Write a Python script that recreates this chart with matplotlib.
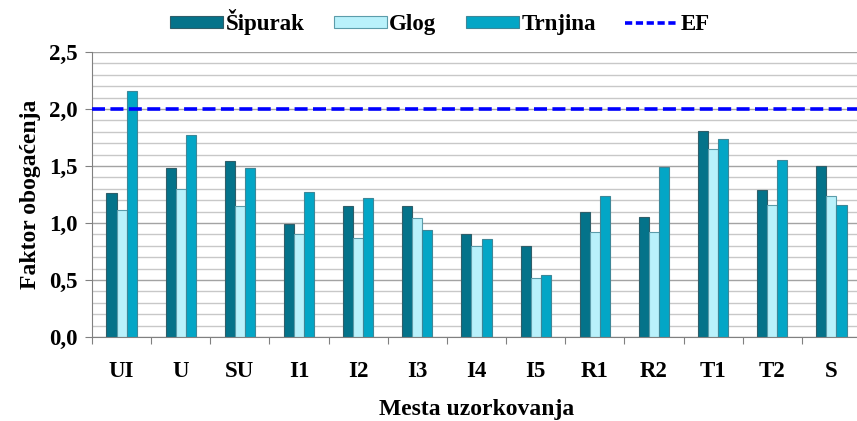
import numpy as np
import matplotlib
matplotlib.use('Agg')
import matplotlib.pyplot as plt
from matplotlib.patches import Patch
from matplotlib.lines import Line2D
from matplotlib.ticker import MultipleLocator, FuncFormatter

plt.rcParams['font.family'] = ['Liberation Serif', 'DejaVu Serif']
plt.rcParams['font.weight'] = 'bold'

# mesta uzorkovanja i faktori obogacenja
mesta = ['UI', 'U', 'SU', 'I1', 'I2', 'I3', 'I4', 'I5', 'R1', 'R2', 'T1', 'T2', 'S']
sipurak = [1.26, 1.48, 1.54, 0.99, 1.15, 1.15, 0.90, 0.80, 1.10, 1.05, 1.81, 1.29, 1.50]
glog = [1.11, 1.30, 1.15, 0.90, 0.87, 1.04, 0.80, 0.52, 0.92, 0.92, 1.65, 1.16, 1.24]
trnjina = [2.16, 1.77, 1.48, 1.27, 1.22, 0.94, 0.86, 0.54, 1.24, 1.49, 1.74, 1.55, 1.16]
ef = 2.0

fig = plt.figure(figsize=(8.57, 4.21), dpi=100)
# desna ivica grafika je odsecena kao na originalu
ax = fig.add_axes([92 / 857, 84 / 421, 769 / 857, 285 / 421])

x = np.arange(len(mesta))
w = 0.17
ax.bar(x - w, sipurak, w, color='#04738A', edgecolor='#2F5E69', linewidth=0.8, zorder=2, label='Šipurak')
ax.bar(x, glog, w, color='#B9F1FB', edgecolor='#5C9CAA', linewidth=0.8, zorder=2, label='Glog')
ax.bar(x + w, trnjina, w, color='#03A6C6', edgecolor='#3D8798', linewidth=0.8, zorder=2, label='Trnjina')
ax.axhline(ef, color='#0000FF', linewidth=2.6, linestyle=(0, (3.6, 1.5)), zorder=3)

ax.set_xlim(-0.5, len(mesta) - 0.5)
ax.set_ylim(0, 2.5)

# mreza: gusta svakih 0,1, jaca svakih 0,5
ax.yaxis.set_major_locator(MultipleLocator(0.5))
ax.yaxis.set_minor_locator(MultipleLocator(0.1))
ax.grid(True, axis='y', which='minor', color='#c8c8c8', linewidth=1.0, zorder=0)
ax.grid(True, axis='y', which='major', color='#a3a3a3', linewidth=1.0, zorder=0)
ax.set_axisbelow(True)
ax.yaxis.set_major_formatter(FuncFormatter(lambda v, p: f'{v:.1f}'.replace('.', ',')))
ax.tick_params(axis='y', which='minor', length=0)
ax.tick_params(axis='y', which='major', length=5, color='#808080', labelsize=16.5, pad=5)

# podeoci na x osi izmedju grupa
ax.set_xticks(np.arange(len(mesta)) - 0.5, minor=False)
ax.set_xticklabels([])
ax.set_xticks(x, minor=True)
ax.set_xticklabels(mesta, minor=True)
ax.tick_params(axis='x', which='major', length=5, color='#808080')
ax.tick_params(axis='x', which='minor', length=0, labelsize=16.5, pad=17)

for s in ['top', 'right']:
    ax.spines[s].set_visible(False)
for s in ['left', 'bottom']:
    ax.spines[s].set_color('#808080')

ax.set_ylabel('Faktor obogaćenja', fontsize=17, fontweight='bold', labelpad=6)
fig.text(477 / 857, 1 - 410 / 421, 'Mesta uzorkovanja', fontsize=17, fontweight='bold',
         ha='center', va='center')

handles = [
    Patch(facecolor='#04738A', edgecolor='#2F5E69', linewidth=0.8),
    Patch(facecolor='#B9F1FB', edgecolor='#5C9CAA', linewidth=0.8),
    Patch(facecolor='#03A6C6', edgecolor='#3D8798', linewidth=0.8),
    Line2D([0], [0], color='#0000FF', linewidth=2.6, linestyle=(0, (2.0, 1.0))),
]
fig.legend(handles, ['Šipurak', 'Glog', 'Trnjina', 'EF'], loc='center',
           bbox_to_anchor=(440 / 857, 1 - 22 / 421), ncol=4, frameon=False,
           fontsize=16.5, handlelength=2.3, handleheight=0.45, handletextpad=0.1,
           columnspacing=1.3)

fig.savefig('out.png', dpi=100)
